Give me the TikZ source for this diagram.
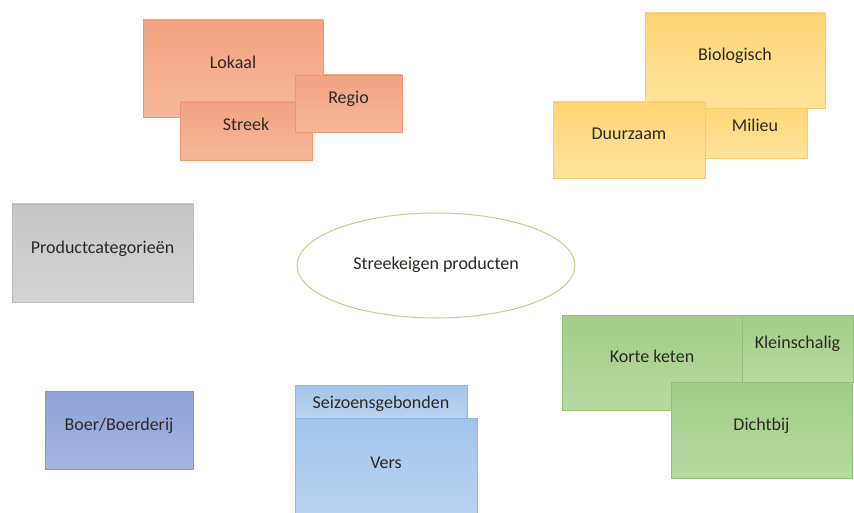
\documentclass[tikz,border=0pt]{standalone}
\usepackage{fontspec}
\setmainfont{Carlito}
\usetikzlibrary{positioning,shapes.geometric}

\definecolor{tekst}{RGB}{45,40,35}
\definecolor{oranjeboven}{RGB}{242,163,130}
\definecolor{oranjeonder}{RGB}{246,184,154}
\definecolor{oranjerand}{RGB}{238,150,115}
\definecolor{geelboven}{RGB}{255,214,118}
\definecolor{geelonder}{RGB}{255,226,155}
\definecolor{geelrand}{RGB}{250,202,105}
\definecolor{grijsboven}{RGB}{198,198,198}
\definecolor{grijsonder}{RGB}{212,212,212}
\definecolor{grijsrand}{RGB}{184,184,184}
\definecolor{groenboven}{RGB}{160,205,135}
\definecolor{groenonder}{RGB}{184,218,162}
\definecolor{groenrand}{RGB}{145,192,118}
\definecolor{blauwboven}{RGB}{142,162,215}
\definecolor{blauwonder}{RGB}{165,181,227}
\definecolor{blauwrand}{RGB}{130,150,205}
\definecolor{lichtblauwboven}{RGB}{162,196,235}
\definecolor{lichtblauwonder}{RGB}{186,212,240}
\definecolor{lichtblauwrand}{RGB}{146,182,225}
\definecolor{ovaalrand}{RGB}{196,206,140}

\tikzset{
  vak/.style={rectangle, draw=#1rand, top color=#1boven, bottom color=#1onder,
    line width=0.6pt, inner sep=0pt, text height=9pt, text depth=9pt,
    font=\fontsize{18}{20}\selectfont, text=tekst},
}

\begin{document}
\begin{tikzpicture}[x=1pt,y=-1pt]
\useasboundingbox (0,0) rectangle (854,513);

% Lokaal / Streek / Regio
\node[vak=oranje, minimum width=180pt, minimum height=97pt] (lokaal) at (233,68.5) {Lokaal};
\node[vak=oranje, minimum width=132pt, minimum height=58pt] (streek) at (246,131) {Streek};
\node[vak=oranje, minimum width=107pt, minimum height=57pt] (regio) at (348.5,103.5) {Regio};

% Biologisch / Milieu / Duurzaam
\node[vak=geel, minimum width=104pt, minimum height=53pt] (milieu) at (755,131.5) {Milieu};
\node[vak=geel, minimum width=180pt, minimum height=95pt] (bio) at (735,60.5) {Biologisch};
\node[vak=geel, minimum width=152pt, minimum height=76pt] (duurzaam) at (629,140) {Duurzaam};

% Productcategorieen
\node[vak=grijs, minimum width=181pt, minimum height=98pt] (categorie) at (102.5,253) {Productcategorieën};

% Midden
\node[ellipse, draw=ovaalrand, fill=white, line width=1pt, inner sep=0pt,
  minimum width=278pt, minimum height=105pt, text height=9pt, text depth=1pt,
  font=\fontsize{18}{20}\selectfont, text=tekst] (streekeigen) at (436,265.5) {Streekeigen producten};

% Korte keten / Kleinschalig / Dichtbij
\node[vak=groen, minimum width=180pt, minimum height=95pt] (keten) at (652,362.5) {Korte keten};
\node[vak=groen, minimum width=111pt, minimum height=67pt] (klein) at (797.5,348.5) {Kleinschalig};
\node[vak=groen, minimum width=181pt, minimum height=96pt] (dichtbij) at (761.5,430) {Dichtbij};

% Boer
\node[vak=blauw, minimum width=148pt, minimum height=78pt] (boer) at (119,430) {Boer/Boerderij};

% Seizoensgebonden / Vers
\node[vak=lichtblauw, minimum width=172pt, minimum height=33pt,
  text height=13pt, text depth=0pt] (seizoen) at (381,401.5) {Seizoensgebonden};
\node[vak=lichtblauw, minimum width=182pt, minimum height=100pt] (vers) at (386,468) {Vers};

\end{tikzpicture}
\end{document}
